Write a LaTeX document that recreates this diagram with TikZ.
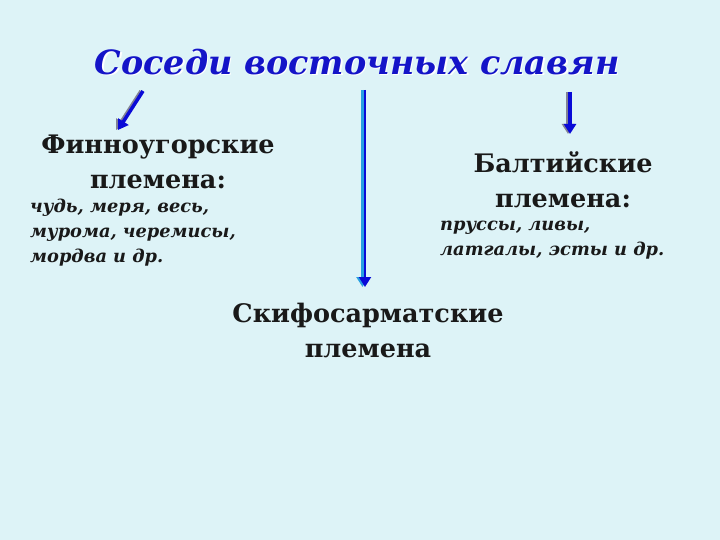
\documentclass[tikz,border=0pt]{standalone}
\usepackage{fontspec}
\setmainfont{DejaVu Serif}
\usetikzlibrary{arrows.meta}
\definecolor{bg}{RGB}{221,243,247}
\definecolor{ttl}{RGB}{20,20,200}
\definecolor{arr}{RGB}{10,10,215}
\definecolor{arrlight}{RGB}{40,160,225}
\definecolor{shd}{RGB}{130,130,150}
\tikzset{
  x=1pt,y=-1pt,
  head/.style={font=\bfseries\fontsize{25.5}{35}\selectfont, align=center, text=black!90, inner sep=0pt},
  list/.style={font=\bfseries\itshape\fontsize{17.8}{25}\selectfont, align=left, text=black!90, inner sep=0pt, anchor=base west},
  arrmain/.style={draw=arr, line width=3.5pt, -{Triangle[width=12pt,length=10pt]}},
  arrshadow/.style={draw=#1, line width=3.5pt, -{Triangle[width=12pt,length=10pt]}},
}
\begin{document}
\begin{tikzpicture}
\fill[bg] (0,0) rectangle (720,540);
\useasboundingbox (0,0) rectangle (720,540);
% title
\node[font=\bfseries\itshape\fontsize{33.4}{36}\selectfont, text=white, inner sep=0pt] at (358.5,63.5) {Соседи восточных славян};
\node[font=\bfseries\itshape\fontsize{33.4}{36}\selectfont, text=ttl, inner sep=0pt] (title) at (357,62) {Соседи восточных славян};
% left
\node[head] (fu) at (158,162) {Финноугорские\\племена:};
\node[list] (ful) at (30,262) {чудь, меря, весь,\\мурома, черемисы,\\мордва и др.};
% right
\node[head] (bt) at (563,180) {Балтийские\\племена:};
\node[list] (btl) at (440,255) {пруссы, ливы,\\латгалы, эсты и др.};
% bottom
\node[head] (sk) at (368,330) {Скифосарматские\\племена};
% arrows
\coordinate (la1) at (143,91);
\coordinate (la2) at (118,130);
\draw[arrshadow=shd] ([xshift=-2pt]la1) -- ([xshift=-2pt]la2);
\draw[arrmain] (la1) -- (la2);
\coordinate (ca1) at (364,90);
\coordinate (ca2) at (364,287);
\draw[arrshadow=arrlight] ([xshift=-1.5pt]ca1) -- ([xshift=-1.5pt]ca2);
\draw[arrmain, line width=2pt] ([xshift=1pt]ca1) -- ([xshift=1pt]ca2);
\coordinate (ra1) at (570,92);
\coordinate (ra2) at (570,134);
\draw[arrshadow=shd] ([xshift=-2pt]ra1) -- ([xshift=-2pt]ra2);
\draw[arrmain] (ra1) -- (ra2);
\end{tikzpicture}
\end{document}
